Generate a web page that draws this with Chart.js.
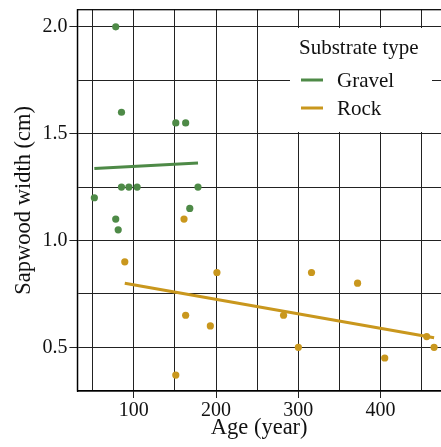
<!DOCTYPE html>
<html>
<head>
<meta charset="utf-8">
<script src="https://cdn.jsdelivr.net/npm/chart.js@4"></script>
<style>
html,body{margin:0;padding:0;background:#fff;}
#wrap{width:441px;height:447px;}
</style>
</head>
<body>
<div id="wrap"><canvas id="c" width="441" height="447"></canvas></div>
<script>
// ---- data ----
const gravelAge   = [78, 85, 151, 163, 52, 85, 94, 104, 178, 168, 78, 81];
const gravelWidth = [2.0, 1.6, 1.55, 1.55, 1.2, 1.25, 1.25, 1.25, 1.25, 1.15, 1.1, 1.05];
const rockAge     = [161, 89, 201, 163, 193, 151, 282, 300, 316, 372, 405, 456, 465];
const rockWidth   = [1.1, 0.9, 0.85, 0.65, 0.6, 0.37, 0.65, 0.5, 0.85, 0.8, 0.45, 0.55, 0.5];
const gravelFitAge = [52, 178];
const gravelFit    = [1.337, 1.362];
const rockFitAge   = [89, 465];
const rockFit      = [0.80, 0.545];
const seriesNames  = ['Gravel', 'Rock'];
const legendTitle  = 'Substrate type';
const xGridValues  = [50, 100, 150, 200, 250, 300, 350, 400, 450];
const xTickLabels  = [100, 200, 300, 400];
const yGridValues  = [0.5, 0.75, 1.0, 1.25, 1.5, 1.75, 2.0];
const yTickLabels  = [0.5, 1.0, 1.5, 2.0];
const xTitle = 'Age (year)';
const yTitle = 'Sapwood width (cm)';

const GREEN = '#4e8a47';
const GOLD  = '#c9971d';
const FONT  = "'Liberation Serif', 'Times New Roman', serif";

const toXY = (xs, ys) => xs.map((x, i) => ({x: x, y: ys[i]}));
const isLabel = (list, v) => list.some(l => Math.abs(l - v) < 1e-6);

const framePlugin = {
  id: 'frame',
  beforeDatasetsDraw(chart) {
    const {ctx, chartArea: a} = chart;
    ctx.save();
    ctx.strokeStyle = '#000';
    ctx.lineWidth = 1.25;
    ctx.strokeRect(a.left, a.top, a.right - a.left + 5, a.bottom - a.top);
    ctx.restore();
  }
};

const legendPlugin = {
  id: 'customLegend',
  afterDatasetsDraw(chart) {
    const ctx = chart.ctx;
    ctx.save();
    ctx.fillStyle = '#fff';
    ctx.fillRect(290, 28, 142, 104);
    ctx.fillStyle = '#111';
    ctx.font = "21px " + FONT;
    ctx.textBaseline = 'middle';
    ctx.textAlign = 'left';
    ctx.fillText(legendTitle, 299, 48);
    const colors = [GREEN, GOLD];
    const ys = [80, 108];
    seriesNames.forEach((n, i) => {
      ctx.strokeStyle = colors[i];
      ctx.lineWidth = 3;
      ctx.beginPath();
      ctx.moveTo(301, ys[i]);
      ctx.lineTo(323, ys[i]);
      ctx.stroke();
      ctx.fillStyle = '#111';
      ctx.fillText(n, 337, ys[i] + 1);
    });
    ctx.restore();
  }
};

new Chart(document.getElementById('c'), {
  type: 'scatter',
  data: {
    datasets: [
      {label: seriesNames[0], data: toXY(gravelAge, gravelWidth), backgroundColor: GREEN, borderColor: GREEN, pointRadius: 3.6, pointBorderWidth: 0, order: 2},
      {label: seriesNames[1], data: toXY(rockAge, rockWidth), backgroundColor: GOLD, borderColor: GOLD, pointRadius: 3.6, pointBorderWidth: 0, order: 2},
      {label: seriesNames[0] + ' fit', data: toXY(gravelFitAge, gravelFit), showLine: true, borderColor: GREEN, borderWidth: 3, pointRadius: 0, order: 1},
      {label: seriesNames[1] + ' fit', data: toXY(rockFitAge, rockFit), showLine: true, borderColor: GOLD, borderWidth: 3, pointRadius: 0, order: 1}
    ]
  },
  options: {
    responsive: false,
    animation: false,
    devicePixelRatio: 1,
    layout: {autoPadding: false, padding: {top: 9.7, right: 0, bottom: 0, left: 0}},
    plugins: {legend: {display: false}, tooltip: {enabled: false}},
    scales: {
      x: {
        type: 'linear',
        min: 31.4, max: 473.4,
        afterBuildTicks: s => { s.ticks = xGridValues.map(v => ({value: v})); },
        afterFit: s => { s.height = 56; s.paddingLeft = 0; s.paddingRight = 0; },
        grid: {color: '#222', lineWidth: 1, tickLength: 7,
               tickColor: c => isLabel(xTickLabels, c.tick.value) ? '#222' : 'rgba(0,0,0,0)'},
        border: {display: true, color: '#000', width: 1.25},
        ticks: {autoSkip: false, maxRotation: 0, padding: 1, color: '#111',
                font: {family: FONT, size: 20},
                callback: v => isLabel(xTickLabels, v) ? String(v) : ''},
        title: {display: true, text: xTitle, color: '#111', font: {family: FONT, size: 22.5}, padding: {top: 0, bottom: 5}}
      },
      y: {
        type: 'linear',
        min: 0.2955, max: 2.08,
        afterBuildTicks: s => { s.ticks = yGridValues.map(v => ({value: v})); },
        afterFit: s => { s.width = 77.4; s.paddingTop = 0; s.paddingBottom = 0; },
        grid: {color: '#222', lineWidth: 1, tickLength: 8,
               tickColor: c => isLabel(yTickLabels, c.tick.value) ? '#222' : 'rgba(0,0,0,0)'},
        border: {display: true, color: '#000', width: 1.25},
        ticks: {autoSkip: false, padding: 2, color: '#111',
                font: {family: FONT, size: 20},
                callback: v => isLabel(yTickLabels, v) ? v.toFixed(1) : ''},
        title: {display: true, text: yTitle, color: '#111', font: {family: FONT, size: 22.5}, padding: {top: 11, bottom: 0}}
      }
    }
  },
  plugins: [framePlugin, legendPlugin]
});
</script>
</body>
</html>
